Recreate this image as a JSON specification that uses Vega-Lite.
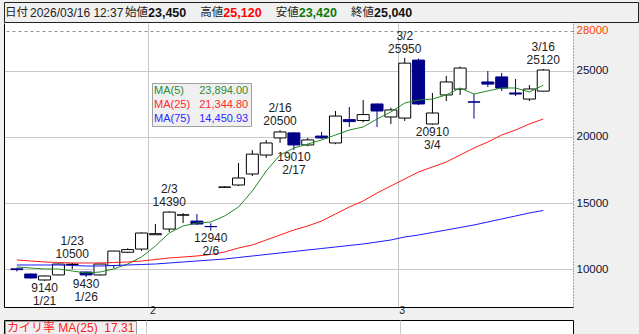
{
  "$schema": "https://vega.github.io/schema/vega-lite/v6.json",
  "background": "#f0f0f0",
  "padding": {"left": 3, "top": 1, "right": 0, "bottom": 0},
  "spacing": 0,
  "resolve": {"scale": {"color": "independent"}, "legend": {"color": "independent"}},
  "config": {"font": "Liberation Sans", "concat": {"spacing": 0}},
  "datasets": {
    "header": [
      {"k": "d", "lab": "日付", "val": "2026/03/16 12:37"},
      {"k": "o", "lab": "始値", "val": "23,450"},
      {"k": "h", "lab": "高値", "val": "25,120"},
      {"k": "l", "lab": "安値", "val": "23,420"},
      {"k": "c", "lab": "終値", "val": "25,040"}
    ],
    "candles": [
      {"i":0,"d":"1/19","o":10050,"h":10120,"l":9850,"c":9990,"m5":10189,"m25":10716,"m75":10339},
      {"i":1,"d":"1/20","o":9660,"h":9700,"l":9330,"c":9360,"m5":10113,"m25":10641,"m75":10339},
      {"i":2,"d":"1/21","o":9210,"h":9550,"l":9140,"c":9510,"m5":10038,"m25":10566,"m75":10339},
      {"i":3,"d":"1/22","o":9590,"h":10450,"l":9550,"c":10410,"m5":10038,"m25":10528,"m75":10339},
      {"i":4,"d":"1/23","o":10380,"h":10500,"l":10020,"c":10400,"m5":9887,"m25":10490,"m75":10302},
      {"i":5,"d":"1/26","o":9810,"h":9850,"l":9430,"c":9590,"m5":9736,"m25":10490,"m75":10264},
      {"i":6,"d":"1/27","o":9590,"h":10430,"l":9560,"c":10410,"m5":9811,"m25":10490,"m75":10264},
      {"i":7,"d":"1/28","o":10300,"h":11400,"l":10100,"c":11390,"m5":10038,"m25":10528,"m75":10302},
      {"i":8,"d":"1/29","o":11300,"h":11600,"l":11250,"c":11500,"m5":10415,"m25":10566,"m75":10339},
      {"i":9,"d":"1/30","o":11540,"h":12800,"l":11400,"c":12750,"m5":10943,"m25":10641,"m75":10377},
      {"i":10,"d":"2/2","o":12620,"h":13430,"l":12600,"c":12700,"m5":11772,"m25":10754,"m75":10415},
      {"i":11,"d":"2/3","o":13050,"h":14390,"l":12830,"c":14330,"m5":12752,"m25":10867,"m75":10490},
      {"i":12,"d":"2/4","o":14100,"h":14250,"l":13500,"c":14120,"m5":13280,"m25":10943,"m75":10566},
      {"i":13,"d":"2/5","o":13650,"h":14180,"l":13350,"c":13430,"m5":13506,"m25":11018,"m75":10641},
      {"i":14,"d":"2/6","o":13240,"h":13480,"l":12940,"c":13230,"m5":13582,"m25":11131,"m75":10716},
      {"i":15,"d":"2/9","o":16200,"h":16260,"l":16150,"c":16220,"m5":14034,"m25":11320,"m75":10792},
      {"i":16,"d":"2/10","o":16370,"h":18030,"l":16300,"c":16900,"m5":14713,"m25":11621,"m75":10905},
      {"i":17,"d":"2/12","o":17200,"h":19000,"l":17050,"c":18700,"m5":15919,"m25":11847,"m75":11018},
      {"i":18,"d":"2/13","o":18630,"h":19760,"l":18410,"c":19540,"m5":17427,"m25":12224,"m75":11131},
      {"i":19,"d":"2/16","o":19920,"h":20500,"l":19540,"c":20370,"m5":18633,"m25":12601,"m75":11244},
      {"i":20,"d":"2/17","o":20300,"h":20350,"l":19010,"c":19390,"m5":19161,"m25":12978,"m75":11357},
      {"i":21,"d":"2/18","o":19390,"h":19920,"l":19300,"c":19770,"m5":19463,"m25":13280,"m75":11470},
      {"i":22,"d":"2/19","o":20060,"h":20370,"l":19840,"c":19920,"m5":19764,"m25":13657,"m75":11583},
      {"i":23,"d":"2/20","o":19540,"h":21950,"l":19450,"c":21570,"m5":20141,"m25":14185,"m75":11696},
      {"i":24,"d":"2/24","o":21300,"h":22250,"l":20750,"c":21150,"m5":20518,"m25":14713,"m75":11810},
      {"i":25,"d":"2/25","o":21230,"h":22780,"l":21100,"c":21680,"m5":20745,"m25":15165,"m75":11923},
      {"i":26,"d":"2/26","o":22480,"h":22500,"l":20740,"c":21950,"m5":21348,"m25":15768,"m75":12074},
      {"i":27,"d":"2/27","o":21500,"h":22200,"l":20970,"c":22030,"m5":21876,"m25":16296,"m75":12224},
      {"i":28,"d":"3/2","o":21420,"h":25950,"l":21200,"c":25560,"m5":22554,"m25":16824,"m75":12451},
      {"i":29,"d":"3/3","o":25790,"h":25900,"l":22400,"c":22480,"m5":22780,"m25":17352,"m75":12601},
      {"i":30,"d":"3/4","o":20970,"h":23310,"l":20910,"c":21800,"m5":22856,"m25":17729,"m75":12790},
      {"i":31,"d":"3/5","o":23160,"h":24600,"l":22700,"c":24140,"m5":23158,"m25":18106,"m75":12978},
      {"i":32,"d":"3/6","o":23600,"h":25300,"l":23160,"c":25190,"m5":23685,"m25":18633,"m75":13167},
      {"i":33,"d":"3/9","o":22640,"h":23230,"l":21370,"c":22620,"m5":23233,"m25":19161,"m75":13355},
      {"i":34,"d":"3/10","o":24140,"h":24970,"l":23760,"c":23980,"m5":23459,"m25":19613,"m75":13582},
      {"i":35,"d":"3/11","o":24520,"h":24820,"l":23460,"c":23680,"m5":23685,"m25":20141,"m75":13808},
      {"i":36,"d":"3/12","o":23310,"h":24370,"l":23080,"c":23230,"m5":23685,"m25":20518,"m75":14034},
      {"i":37,"d":"3/13","o":22850,"h":23910,"l":22700,"c":23610,"m5":23384,"m25":20971,"m75":14260},
      {"i":38,"d":"3/16","o":23450,"h":25120,"l":23420,"c":25040,"m5":23894,"m25":21345,"m75":14451}
    ],
    "notes": [
      {"i": 4, "p": 10500, "kind": "high", "t": "1/23\n10500"},
      {"i": 11, "p": 14390, "kind": "high", "t": "2/3\n14390"},
      {"i": 19, "p": 20500, "kind": "high", "t": "2/16\n20500"},
      {"i": 28, "p": 25950, "kind": "high", "t": "3/2\n25950"},
      {"i": 38, "p": 25120, "kind": "high", "t": "3/16\n25120"},
      {"i": 2, "p": 9140, "kind": "low", "t": "9140\n1/21"},
      {"i": 5, "p": 9430, "kind": "low", "t": "9430\n1/26"},
      {"i": 14, "p": 12940, "kind": "low", "t": "12940\n2/6"},
      {"i": 20, "p": 19010, "kind": "low", "t": "19010\n2/17"},
      {"i": 30, "p": 20910, "kind": "low", "t": "20910\n3/4"}
    ],
    "kairi": [{"i": 38, "v": 17.31, "ind": "カイリ率 MA(25)"}]
  },
  "vconcat": [
    {
      "width": 634,
      "height": 20,
      "view": {"fill": "#f0f0f0", "stroke": "#222222"},
      "data": {"name": "header"},
      "encoding": {
        "x": {"field": "k", "type": "nominal", "scale": {"type": "point", "domain": ["d", "o", "h", "l", "c"], "range": [45.7, 347], "padding": 0}, "axis": null}
      },
      "layer": [
        {
          "transform": [{"filter": "datum.k == 'd'"}],
          "mark": {"type": "text", "align": "left", "baseline": "middle", "dx": -44.7, "dy": 1, "font": "Noto Sans CJK JP", "fontSize": 11.5, "color": "#222222"},
          "encoding": {"text": {"field": "lab"}}
        },
        {
          "transform": [{"filter": "datum.k == 'd'"}],
          "mark": {"type": "text", "align": "left", "baseline": "middle", "dx": -19.7, "dy": 1, "fontSize": 12, "color": "#222222"},
          "encoding": {"text": {"field": "val"}}
        },
        {
          "transform": [{"filter": "datum.k != 'd'"}],
          "mark": {"type": "text", "align": "left", "baseline": "middle", "dy": 1, "font": "Noto Sans CJK JP", "fontSize": 11.5, "color": "#222222"},
          "encoding": {"text": {"field": "lab"}}
        },
        {
          "transform": [{"filter": "datum.k != 'd'"}],
          "mark": {"type": "text", "align": "left", "baseline": "middle", "dx": 23, "dy": 1, "fontSize": 12.5, "fontWeight": "bold"},
          "encoding": {
            "text": {"field": "val"},
            "color": {"field": "k", "type": "nominal", "scale": {"domain": ["o", "h", "l", "c"], "range": ["#111111", "#ff0000", "#0a7a0a", "#111111"]}, "legend": null}
          }
        }
      ]
    },
    {
      "width": 569,
      "height": 284,
      "view": {"fill": "#ffffff", "stroke": null},
      "data": {"name": "candles"},
      "resolve": {"axis": {"y": "independent"}},
      "layer": [
        {
          "mark": {"type": "rule", "strokeWidth": 1},
          "encoding": {
            "x": {"field": "i", "type": "quantitative", "scale": {"domain": [-0.567, 39.787], "nice": false, "zero": false},
              "axis": {"values": [9.5, 27.5], "labelExpr": "datum.value < 20 ? '2' : '3'", "grid": true, "gridColor": "#c8c8c8", "ticks": false, "domain": true, "domainColor": "#000000", "labelAlign": "left", "labelOffset": 1, "labelBaseline": "middle", "labelPadding": 3, "labelFontSize": 10.5, "labelColor": "#222222", "labelFlush": false, "labelOverlap": false, "title": null, "minExtent": 10, "maxExtent": 10}},
            "y": {"field": "l", "type": "quantitative", "scale": {"domain": [7172, 28586], "nice": false, "zero": false},
              "axis": {"orient": "left", "labels": false, "ticks": false, "grid": false, "domain": true, "domainColor": "#000000", "title": null, "minExtent": 0, "maxExtent": 0}},
            "y2": {"field": "h"},
            "stroke": {"condition": {"test": "datum.c >= datum.o", "value": "#000000"}, "value": "#000088"}
          }
        },
        {
          "mark": {"type": "bar", "width": 12, "strokeWidth": 1},
          "encoding": {
            "x": {"field": "i", "type": "quantitative", "scale": {"domain": [-0.567, 39.787], "nice": false, "zero": false},
              "axis": {"values": [9.5, 27.5], "labelExpr": "datum.value < 20 ? '2' : '3'", "grid": true, "gridColor": "#c8c8c8", "ticks": false, "domain": true, "domainColor": "#000000", "labelAlign": "left", "labelOffset": 1, "labelBaseline": "middle", "labelPadding": 3, "labelFontSize": 10.5, "labelColor": "#222222", "labelFlush": false, "labelOverlap": false, "title": null, "minExtent": 10, "maxExtent": 10}},
            "y": {"field": "o", "type": "quantitative", "scale": {"domain": [7172, 28586], "nice": false, "zero": false},
              "axis": {"orient": "right", "values": [10000, 15000, 20000, 25000, 28000], "format": "d", "grid": true,
                "gridColor": {"condition": {"test": "datum.value == 28000", "value": "#909090"}, "value": "#c8c8c8"},
                "gridDash": {"condition": {"test": "datum.value == 28000", "value": [3, 3]}, "value": []},
                "labelColor": {"condition": {"test": "datum.value == 28000", "value": "#ff4500"}, "value": "#101030"},
                "ticks": false, "domain": true, "domainColor": "#555555", "domainDash": [1, 2], "labelFontSize": 11.5, "labelPadding": 3, "labelBaseline": "middle", "labelFlush": false, "labelOverlap": false, "title": null, "minExtent": 60, "maxExtent": 66}},
            "y2": {"field": "c"},
            "fill": {"condition": {"test": "datum.c >= datum.o", "value": "#ffffff"}, "value": "#000088"},
            "stroke": {"condition": {"test": "datum.c >= datum.o", "value": "#000000"}, "value": "#000088"}
          }
        },
        {
          "transform": [{"fold": ["m5", "m25", "m75"], "as": ["ma", "val"]}],
          "mark": {"type": "line", "strokeWidth": 1},
          "encoding": {
            "x": {"field": "i", "type": "quantitative", "scale": {"domain": [-0.567, 39.787], "nice": false, "zero": false},
              "axis": {"values": [9.5, 27.5], "labelExpr": "datum.value < 20 ? '2' : '3'", "grid": true, "gridColor": "#c8c8c8", "ticks": false, "domain": true, "domainColor": "#000000", "labelAlign": "left", "labelOffset": 1, "labelBaseline": "middle", "labelPadding": 3, "labelFontSize": 10.5, "labelColor": "#222222", "labelFlush": false, "labelOverlap": false, "title": null, "minExtent": 10, "maxExtent": 10}},
            "y": {"field": "val", "type": "quantitative", "scale": {"domain": [7172, 28586], "nice": false, "zero": false}, "axis": null},
            "color": {"field": "ma", "type": "nominal", "scale": {"domain": ["m5", "m25", "m75"], "range": ["#228b22", "#ff1a1a", "#1a1aff"]},
              "legend": {"title": null, "orient": "none", "legendX": 148, "legendY": 60, "fillColor": "#f0f0f0", "strokeColor": "#a0a0a0", "padding": 2,
                "symbolType": "circle", "symbolSize": 1, "symbolStrokeWidth": 0, "symbolOpacity": 0, "labelOffset": -11, "labelFontSize": 11, "rowPadding": 2, "labelLimit": 300,
                "labelExpr": "datum.label == 'm5' ? 'MA(5)\u2007\u00a0\u00a0\u00a023,894.00' : datum.label == 'm25' ? 'MA(25)\u00a0\u00a0\u00a021,344.80' : 'MA(75)\u00a0\u00a0\u00a014,450.93'",
                "labelColor": {"expr": "datum.value == 'm5' ? '#2e8b2e' : datum.value == 'm25' ? '#ff2a2a' : '#2a2aff'"}}}
          }
        },
        {
          "data": {"name": "notes"},
          "transform": [{"filter": "datum.kind == 'high'"}],
          "mark": {"type": "text", "align": "center", "baseline": "bottom", "dy": -15, "lineBreak": "\n", "lineHeight": 13, "fontSize": 12, "color": "#222222"},
          "encoding": {
            "x": {"field": "i", "type": "quantitative", "scale": {"domain": [-0.567, 39.787], "nice": false, "zero": false},
              "axis": {"values": [9.5, 27.5], "labelExpr": "datum.value < 20 ? '2' : '3'", "grid": true, "gridColor": "#c8c8c8", "ticks": false, "domain": true, "domainColor": "#000000", "labelAlign": "left", "labelOffset": 1, "labelBaseline": "middle", "labelPadding": 3, "labelFontSize": 10.5, "labelColor": "#222222", "labelFlush": false, "labelOverlap": false, "title": null, "minExtent": 10, "maxExtent": 10}},
            "y": {"field": "p", "type": "quantitative", "scale": {"domain": [7172, 28586], "nice": false, "zero": false}, "axis": null},
            "text": {"field": "t"}
          }
        },
        {
          "data": {"name": "notes"},
          "transform": [{"filter": "datum.kind == 'low'"}],
          "mark": {"type": "text", "align": "center", "baseline": "top", "dy": 2, "lineBreak": "\n", "lineHeight": 13, "fontSize": 12, "color": "#222222"},
          "encoding": {
            "x": {"field": "i", "type": "quantitative", "scale": {"domain": [-0.567, 39.787], "nice": false, "zero": false},
              "axis": {"values": [9.5, 27.5], "labelExpr": "datum.value < 20 ? '2' : '3'", "grid": true, "gridColor": "#c8c8c8", "ticks": false, "domain": true, "domainColor": "#000000", "labelAlign": "left", "labelOffset": 1, "labelBaseline": "middle", "labelPadding": 3, "labelFontSize": 10.5, "labelColor": "#222222", "labelFlush": false, "labelOverlap": false, "title": null, "minExtent": 10, "maxExtent": 10}},
            "y": {"field": "p", "type": "quantitative", "scale": {"domain": [7172, 28586], "nice": false, "zero": false}, "axis": null},
            "text": {"field": "t"}
          }
        }
      ]
    },
    {
      "width": 569,
      "height": 17,
      "view": {"fill": "#ffffff", "stroke": "#000000"},
      "data": {"name": "kairi"},
      "mark": {"type": "point", "opacity": 0},
      "encoding": {
        "x": {"field": "i", "type": "quantitative", "scale": {"domain": [-0.567, 39.787], "nice": false, "zero": false},
          "axis": {"values": [9.5, 27.5], "grid": true, "gridColor": "#c8c8c8", "labels": false, "ticks": false, "domain": false, "title": null, "minExtent": 0, "maxExtent": 0}},
        "y": {"field": "v", "type": "quantitative", "axis": null},
        "color": {"field": "ind", "type": "nominal", "scale": {"range": ["#ff2020"]},
          "legend": {"title": null, "orient": "top-left", "offset": 1, "padding": 1, "fillColor": "#f0f0f0", "strokeColor": "#a0a0a0",
            "symbolType": "circle", "symbolSize": 1, "symbolStrokeWidth": 0, "symbolOpacity": 0, "labelOffset": -11, "labelFont": "Liberation Sans, Noto Sans CJK JP", "labelFontSize": 12, "labelColor": "#ff2020", "labelLimit": 300,
            "labelExpr": "datum.label + '\u00a0\u00a017.31'"}}
      }
    }
  ]
}
